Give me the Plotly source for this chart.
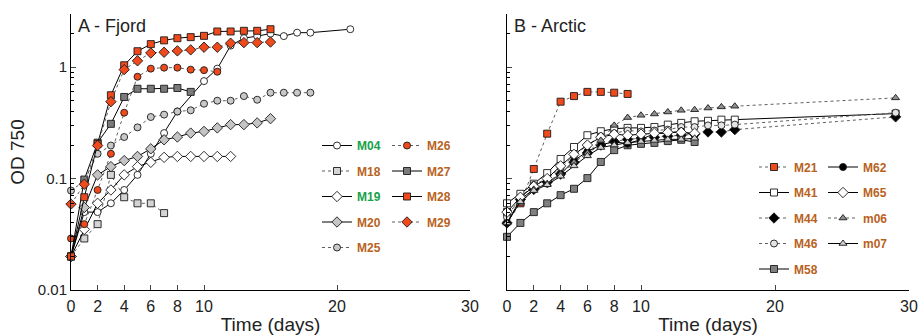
import plotly.graph_objects as go

# ---------------- Panel A - Fjord ----------------
m04_days = [0, 1, 2, 3, 4, 5, 6, 7, 8, 10, 11, 12, 13, 14, 15, 16, 17, 18, 21]
m04_od = [0.02, 0.05, 0.05, 0.06, 0.079, 0.108, 0.167, 0.256, 0.40, 0.75, 0.97, 1.56, 1.82, 1.9, 2.0, 1.9, 2.04, 2.04, 2.19]
m18_days = [0, 1, 2, 3, 4, 5, 6, 7]
m18_od = [0.02, 0.029, 0.039, 0.108, 0.068, 0.06, 0.06, 0.049]
m19_days = [0, 1, 2, 3, 4, 5, 6, 7, 8, 9, 10, 11, 12]
m19_od = [0.02, 0.035, 0.06, 0.079, 0.108, 0.128, 0.14, 0.155, 0.158, 0.158, 0.158, 0.158, 0.158]
m20_days = [0, 1, 2, 3, 4, 5, 6, 7, 8, 9, 10, 11, 12, 13, 14, 15]
m20_od = [0.02, 0.055, 0.108, 0.128, 0.145, 0.158, 0.185, 0.223, 0.236, 0.256, 0.265, 0.285, 0.305, 0.305, 0.316, 0.345]
m25_days = [0, 1, 2, 3, 4, 5, 6, 7, 8, 9, 10, 11, 12, 13, 14, 15, 16, 17, 18]
m25_od = [0.078, 0.095, 0.167, 0.198, 0.236, 0.288, 0.357, 0.375, 0.40, 0.41, 0.47, 0.50, 0.50, 0.55, 0.51, 0.59, 0.59, 0.59, 0.59]
m26_days = [0, 1, 2, 3, 4, 5, 6, 7, 8, 9, 10, 11]
m26_od = [0.029, 0.039, 0.079, 0.167, 0.39, 0.82, 0.97, 0.99, 0.99, 0.95, 0.94, 0.91]
m27_days = [0, 1, 2, 3, 4, 5, 6, 7, 8, 9]
m27_od = [0.02, 0.098, 0.21, 0.31, 0.54, 0.64, 0.64, 0.64, 0.65, 0.60]
m28_days = [0, 1, 2, 3, 4, 5, 6, 7, 8, 9, 10, 11, 12, 13, 14, 15]
m28_od = [0.02, 0.068, 0.205, 0.56, 1.04, 1.39, 1.61, 1.74, 1.82, 1.86, 1.91, 2.09, 2.09, 2.12, 2.12, 2.19]
m29_days = [0, 1, 2, 3, 4, 5, 6, 7, 8, 9, 10, 11, 12, 13, 14, 15]
m29_od = [0.059, 0.089, 0.198, 0.49, 0.95, 1.14, 1.34, 1.36, 1.40, 1.43, 1.51, 1.51, 1.64, 1.66, 1.66, 1.68]

# ---------------- Panel B - Arctic ----------------
m21_days = [0, 1, 2, 3, 4, 5, 6, 7, 8, 9]
m21_od = [0.05, 0.06, 0.122, 0.253, 0.49, 0.55, 0.60, 0.60, 0.59, 0.575]
m41_days = [0, 1, 2, 3, 4, 5, 6, 7, 8, 9, 10, 11, 12, 13, 14, 15, 16, 17, 29]
m41_od = [0.06, 0.073, 0.09, 0.112, 0.15, 0.192, 0.245, 0.266, 0.28, 0.285, 0.285, 0.29, 0.305, 0.316, 0.327, 0.33, 0.338, 0.338, 0.383]
m44_days = [0, 1, 2, 3, 4, 5, 6, 7, 8, 9, 10, 11, 12, 13, 14, 15, 16, 17, 29]
m44_od = [0.04, 0.065, 0.08, 0.093, 0.11, 0.14, 0.17, 0.2, 0.215, 0.225, 0.23, 0.235, 0.24, 0.245, 0.25, 0.262, 0.262, 0.275, 0.358]
m46_days = [0, 1, 2, 3, 4, 5, 6, 7, 8, 9, 10, 11, 12, 13, 14, 15, 16, 17, 29]
m46_od = [0.045, 0.068, 0.088, 0.1, 0.125, 0.16, 0.2, 0.24, 0.255, 0.27, 0.265, 0.27, 0.275, 0.29, 0.29, 0.3, 0.3, 0.305, 0.39]
m58_days = [0, 1, 2, 3, 4, 5, 6, 7, 8, 9, 10, 11, 12, 13, 14]
m58_od = [0.03, 0.04, 0.05, 0.06, 0.071, 0.081, 0.101, 0.141, 0.18, 0.199, 0.205, 0.209, 0.217, 0.223, 0.213]
m62_days = [0, 1, 2, 3, 4, 5, 6, 7, 8, 9, 10, 11, 12, 13, 14]
m62_od = [0.04, 0.065, 0.08, 0.09, 0.11, 0.145, 0.175, 0.2, 0.215, 0.205, 0.225, 0.253, 0.256, 0.266, 0.245]
m65_days = [0, 1, 2, 3, 4, 5, 6, 7, 8, 9, 10, 11, 12, 13, 14]
m65_od = [0.05, 0.068, 0.085, 0.1, 0.13, 0.165, 0.2, 0.235, 0.25, 0.245, 0.25, 0.255, 0.26, 0.26, 0.255]
m06_days = [0, 1, 2, 3, 4, 5, 6, 7, 8, 9, 10, 11, 12, 13, 14, 15, 16, 17, 29]
m06_od = [0.04, 0.06, 0.08, 0.09, 0.11, 0.14, 0.17, 0.22, 0.30, 0.353, 0.37, 0.38, 0.396, 0.41, 0.415, 0.43, 0.44, 0.446, 0.53]
m07_days = [0, 1, 2, 3, 4, 5, 6, 7, 8, 9, 10, 11, 12, 13, 14]
m07_od = [0.04, 0.062, 0.078, 0.088, 0.105, 0.13, 0.16, 0.19, 0.2, 0.21, 0.215, 0.22, 0.225, 0.225, 0.23]

x_tickvals = [0, 2, 4, 6, 8, 10, 20, 30]
y_tickvals = [0.01, 0.1, 1]
y_ticktext = ["0.01", "0.1", "1"]
y_minor = [0.02, 0.03, 0.04, 0.05, 0.06, 0.07, 0.08, 0.09,
           0.2, 0.3, 0.4, 0.5, 0.6, 0.7, 0.8, 0.9, 2, 3]

RED = "#F04A1C"
GREEN = "#17A24A"
BROWN = "#B8621E"
FONT = "Liberation Sans, Arial, sans-serif"

W, H = 919, 335


def label(name, color):
    return f"<span style='color:{color}'><b>{name}</b></span>"


fig = go.Figure()


def add(days, od, name, color, symbol, fill, dotted, xa, ya, legend):
    fig.add_trace(go.Scatter(
        x=days, y=od, mode="lines+markers",
        name=label(name, color),
        legend=legend, legendgroup=name,
        xaxis=xa, yaxis=ya, cliponaxis=False,
        line=dict(color="#606060" if dotted else "#000000", width=1,
                  dash="dot" if dotted else "solid"),
        marker=dict(symbol=symbol, size=7 if symbol != "diamond" else 8,
                    color=fill, line=dict(color="#1a1a1a", width=0.9)),
    ))


# Panel A, left legend column
add(m04_days, m04_od, "M04", GREEN, "circle", "#ffffff", False, "x", "y", "legend")
add(m18_days, m18_od, "M18", BROWN, "square", "#d4d4d4", True, "x", "y", "legend")
add(m19_days, m19_od, "M19", GREEN, "diamond", "#ffffff", False, "x", "y", "legend")
add(m20_days, m20_od, "M20", BROWN, "diamond", "#c4c4c4", False, "x", "y", "legend")
add(m25_days, m25_od, "M25", BROWN, "circle", "#c8c8c8", True, "x", "y", "legend")
# Panel A, right legend column
add(m26_days, m26_od, "M26", BROWN, "circle", RED, True, "x", "y", "legend2")
add(m27_days, m27_od, "M27", BROWN, "square", "#7a7a7a", False, "x", "y", "legend2")
add(m28_days, m28_od, "M28", BROWN, "square", RED, False, "x", "y", "legend2")
add(m29_days, m29_od, "M29", BROWN, "diamond", RED, True, "x", "y", "legend2")

# Panel B, left legend column
add(m21_days, m21_od, "M21", BROWN, "square", RED, True, "x2", "y2", "legend3")
add(m41_days, m41_od, "M41", BROWN, "square", "#ffffff", False, "x2", "y2", "legend3")
add(m44_days, m44_od, "M44", BROWN, "diamond", "#000000", True, "x2", "y2", "legend3")
add(m46_days, m46_od, "M46", BROWN, "circle", "#e4e4e4", True, "x2", "y2", "legend3")
add(m58_days, m58_od, "M58", BROWN, "square", "#808080", False, "x2", "y2", "legend3")
# Panel B, right legend column
add(m62_days, m62_od, "M62", BROWN, "circle", "#000000", False, "x2", "y2", "legend4")
add(m65_days, m65_od, "M65", BROWN, "diamond", "#ffffff", False, "x2", "y2", "legend4")
add(m06_days, m06_od, "m06", BROWN, "triangle-up", "#909090", True, "x2", "y2", "legend4")
add(m07_days, m07_od, "m07", BROWN, "triangle-up", "#d0d0d0", False, "x2", "y2", "legend4")

ML, MR, MT, MB = 0, 0, 14, 45
PW, PH = W - ML - MR, H - MT - MB


def px_x(p):
    return (p - ML) / PW


def px_y(p):
    return (H - MB - p) / PH


xaxis_common = dict(
    range=[0, 30], tickvals=x_tickvals, ticks="inside", ticklen=5, automargin=False,
    showline=True, linecolor="#000", linewidth=1, showgrid=False, zeroline=False,
    tickfont=dict(size=16, color="#222", family=FONT), ticklabelstandoff=2,
    title=dict(text="Time (days)", font=dict(size=19, color="#222", family=FONT), standoff=4),
)
yaxis_common = dict(
    type="log", range=[-2, 0.4771], tickvals=y_tickvals, ticktext=y_ticktext,
    ticks="inside", ticklen=5, showline=True, linecolor="#000", linewidth=1,
    showgrid=False, zeroline=False, automargin=False,
    minor=dict(tickvals=y_minor, ticks="inside", ticklen=3, tickcolor="#000", showgrid=False),
    tickfont=dict(size=15, color="#222", family=FONT),
)

legend_common = dict(
    bgcolor="rgba(0,0,0,0)", borderwidth=0, traceorder="grouped",
    tracegroupgap=6.5, itemwidth=30,
    font=dict(size=12, family=FONT), yanchor="top", xanchor="left",
    itemclick=False,
)

fig.update_layout(
    width=W, height=H,
    margin=dict(l=ML, r=MR, t=MT, b=MB),
    paper_bgcolor="white", plot_bgcolor="white",
    font=dict(family=FONT),
    xaxis=dict(domain=[px_x(71), px_x(470)], anchor="y", **xaxis_common),
    yaxis=dict(domain=[0, 1], anchor="x",
               title=dict(text="OD 750", font=dict(size=19, color="#222", family=FONT), standoff=8),
               **yaxis_common),
    xaxis2=dict(domain=[px_x(507), px_x(909)], anchor="y2", **xaxis_common),
    yaxis2=dict(domain=[0, 1], anchor="x2", showticklabels=False, **yaxis_common),
    legend=dict(x=px_x(317), y=px_y(131), **legend_common),
    legend2=dict(x=px_x(387), y=px_y(131), **legend_common),
    legend3=dict(x=px_x(754), y=px_y(152.5), **legend_common),
    legend4=dict(x=px_x(823), y=px_y(152.5), **legend_common),
    annotations=[
        dict(text="A - Fjord", xref="x domain", yref="y domain", x=0.012, y=1.0,
             xanchor="left", yanchor="top", showarrow=False,
             font=dict(size=18, color="#222", family=FONT)),
        dict(text="B - Arctic", xref="x2 domain", yref="y2 domain", x=0.012, y=1.0,
             xanchor="left", yanchor="top", showarrow=False,
             font=dict(size=18, color="#222", family=FONT)),
    ],
)

fig.write_html("out.html", config={"displayModeBar": False},
               post_script="document.body.style.margin='0';document.body.style.overflow='hidden';")
